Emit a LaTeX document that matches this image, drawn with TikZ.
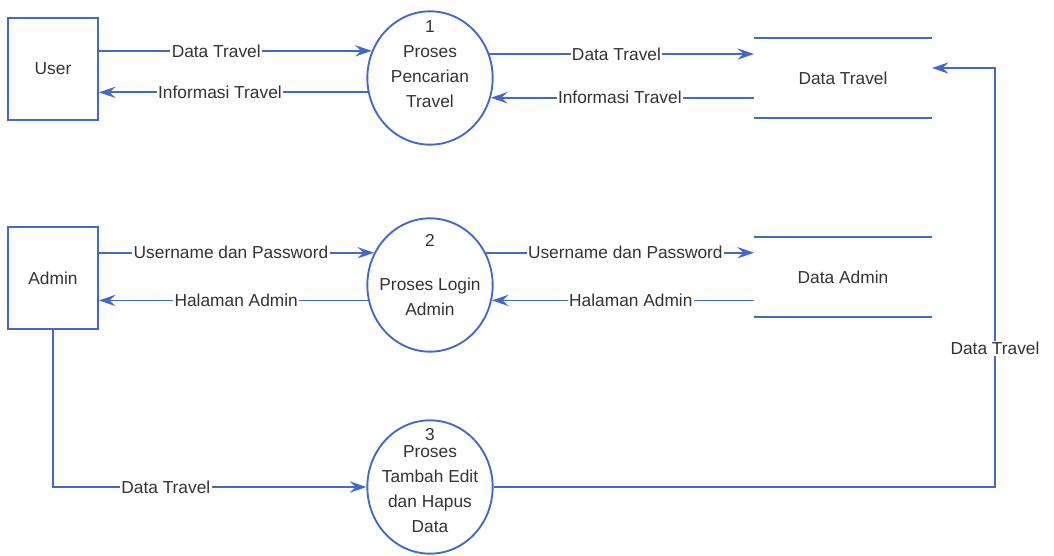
\documentclass[tikz,border=0pt]{standalone}
\usepackage{fontspec}
\setmainfont{Liberation Sans}
\usetikzlibrary{shapes.geometric,arrows.meta}
\definecolor{dfdblue}{RGB}{66,104,204}

\begin{document}
\begin{tikzpicture}[x=0.75pt,y=-0.75pt,
    font=\fontsize{13}{15}\selectfont,
    every node/.style={text=black!80},
    entity/.style={draw=dfdblue,line width=1.4pt,minimum width=67.5pt,minimum height=77pt},
    proc/.style={ellipse,draw=dfdblue,line width=1.4pt,minimum width=94pt,minimum height=100pt},
    ptext/.style={align=center,font=\fontsize{13}{18.75}\selectfont},
    store/.style={minimum width=133pt,minimum height=59pt},
    storeline/.style={draw=dfdblue,line width=1.4pt},
    flow/.style={draw=dfdblue,line width=1.4pt,-{Stealth[length=12.5pt,width=8.5pt,inset=4.5pt]}},
    lbl/.style={fill=white,inner sep=1pt}]
\useasboundingbox (0,0) rectangle (1054,556);

% external entities
\node[entity] (user) at (53,69) {User};
\node[entity] (admin) at (53,278) {Admin};

% processes
\node[proc,label={[ptext,yshift=10.5pt]center:{1\\Proses\\Pencarian\\Travel}}] (p1) at (430,78) {};
\node[proc,label={[ptext,yshift=7.5pt]center:{2\\[14pt]Proses Login\\Admin}}] (p2) at (430,285) {};
\node[proc,label={[ptext,yshift=4.5pt]center:{3\\[-6pt]Proses\\Tambah Edit\\dan Hapus\\Data}}] (p3) at (430,487) {};

% data stores
\node[store] (dsT) at (843,78) {Data Travel};
\node[store] (dsA) at (843,277) {Data Admin};
\draw[storeline] (dsT.north west) -- (dsT.north east) (dsT.south west) -- (dsT.south east);
\draw[storeline] (dsA.north west) -- (dsA.north east) (dsA.south west) -- (dsA.south east);

% flows of process 1
\draw[flow] (user.east |- p1.155) -- node[lbl,pos=0.43] {Data Travel} (p1.155);
\draw[flow] (p1.193) -- node[lbl,pos=0.55] {Informasi Travel} (p1.193 -| user.east);
\draw[flow] (p1.22) -- node[lbl,pos=0.48] {Data Travel} (p1.22 -| dsT.west);
\draw[flow] (dsT.west |- p1.-18) -- node[lbl,pos=0.51] {Informasi Travel} (p1.-18);

% flows of process 2
\draw[flow] (admin.east |- p2.150) -- node[lbl,pos=0.48] {Username dan Password} (p2.150);
\draw[flow] (p2.194) -- node[lbl,pos=0.49] {Halaman Admin} (p2.194 -| admin.east);
\draw[flow] (p2.30) -- node[lbl,pos=0.52] {Username dan Password} (p2.30 -| dsA.west);
\draw[flow] (dsA.west |- p2.-14) -- node[lbl,pos=0.47] {Halaman Admin} (p2.-14);

% flows of process 3
\coordinate (loop) at (995,68);
\draw[flow] (admin.south) |- node[lbl,pos=0.68] {Data Travel} (p3.west);
\draw[flow] (p3.east) -| node[lbl,pos=0.665] {Data Travel} (loop) -- (loop -| dsT.east);
\end{tikzpicture}
\end{document}
